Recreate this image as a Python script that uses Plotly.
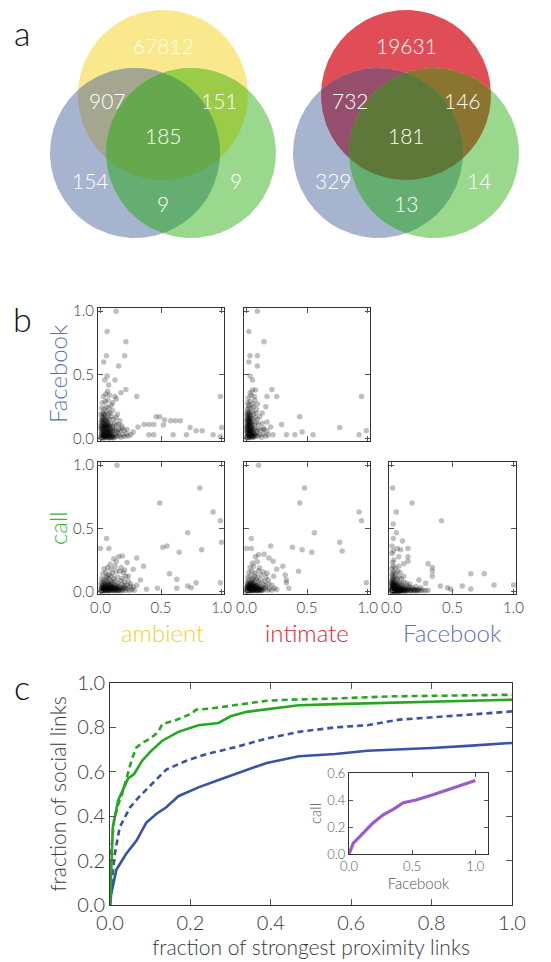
import numpy as np
import plotly.graph_objects as go

W, H = 551, 962
FONT = "Lato, 'Open Sans', sans-serif"

# ---------------- data ----------------
# Venn counts: [A only, A&B, A&C, A&B&C, B only, C only, B&C]  (A = top set, B = Facebook, C = call)
venn_left_counts = [67812, 907, 151, 185, 154, 9, 9]
venn_right_counts = [19631, 732, 146, 181, 329, 14, 13]

# panel b scatter points (x, y)
amb_fb_pts = [
    (0.13, 1.0), (0.055, 0.84), (0.21, 0.76), (0.05, 0.65), (0.2, 0.65), (0.027, 0.60), (0.15, 0.57),
    (0.055, 0.49), (0.036, 0.46), (0.12, 0.46), (0.068, 0.42), (0.21, 0.385), (0.30, 0.33), (0.99, 0.33),
    (0.46, 0.17), (0.49, 0.17), (0.53, 0.145), (0.58, 0.14), (0.62, 0.14), (0.66, 0.14), (0.36, 0.11),
    (0.40, 0.11), (0.44, 0.11), (0.52, 0.105), (0.74, 0.086), (1.0, 0.086), (0.84, 0.06), (0.79, 0.06),
    (0.60, 0.03), (0.71, 0.03), (0.93, 0.03), (0.99, 0.015), (0.40, 0.03), (0.44, 0.03), (0.27, 0.05),
    (0.31, 0.09),
    (0.005, 0.01), (0.015, 0.02), (0.025, 0.005), (0.035, 0.03), (0.045, 0.015), (0.055, 0.04), (0.065, 0.01),
    (0.075, 0.025), (0.085, 0.005), (0.095, 0.035), (0.105, 0.02), (0.115, 0.01), (0.125, 0.03), (0.135, 0.015),
    (0.145, 0.04), (0.155, 0.02), (0.17, 0.01), (0.185, 0.03), (0.2, 0.015), (0.215, 0.035), (0.23, 0.02),
    (0.25, 0.03), (0.01, 0.05), (0.02, 0.065), (0.03, 0.045), (0.04, 0.075), (0.05, 0.055), (0.06, 0.085),
    (0.07, 0.06), (0.08, 0.07), (0.09, 0.05), (0.1, 0.08), (0.11, 0.06), (0.12, 0.075), (0.135, 0.055),
    (0.15, 0.07), (0.165, 0.06), (0.18, 0.08), (0.195, 0.065), (0.22, 0.07), (0.005, 0.1), (0.015, 0.09),
    (0.025, 0.11), (0.035, 0.095), (0.045, 0.12), (0.055, 0.105), (0.065, 0.13), (0.075, 0.1), (0.085, 0.115),
    (0.1, 0.095), (0.115, 0.12), (0.13, 0.105), (0.15, 0.11), (0.175, 0.1), (0.01, 0.14), (0.02, 0.16),
    (0.03, 0.15), (0.04, 0.17), (0.05, 0.145), (0.06, 0.16), (0.075, 0.15), (0.09, 0.175), (0.11, 0.15),
    (0.13, 0.165), (0.16, 0.14), (0.005, 0.19), (0.02, 0.2), (0.035, 0.185), (0.05, 0.21), (0.065, 0.195),
    (0.08, 0.2), (0.1, 0.22), (0.14, 0.19), (0.01, 0.24), (0.03, 0.23), (0.05, 0.25), (0.07, 0.24),
    (0.09, 0.26), (0.015, 0.28), (0.04, 0.29), (0.06, 0.3), (0.1, 0.28), (0.13, 0.31), (0.025, 0.33),
    (0.045, 0.35), (0.075, 0.34), (0.12, 0.33), (0.17, 0.36), (0.06, 0.37),
    (0.012, 0.03), (0.028, 0.06), (0.042, 0.02), (0.058, 0.07), (0.068, 0.045), (0.088, 0.03), (0.022, 0.085),
    (0.048, 0.095), (0.018, 0.125), (0.062, 0.025), (0.032, 0.015), (0.008, 0.07), (0.078, 0.09), (0.098, 0.06),
    (0.004, 0.004), (0.012, 0.012), (0.02, 0.003), (0.028, 0.018), (0.036, 0.006), (0.044, 0.024), (0.052, 0.008),
    (0.06, 0.016), (0.068, 0.003), (0.076, 0.012), (0.084, 0.022), (0.092, 0.008), (0.1, 0.015), (0.108, 0.004),
    (0.008, 0.035), (0.016, 0.045), (0.024, 0.03), (0.032, 0.052), (0.04, 0.038), (0.048, 0.06), (0.056, 0.045),
    (0.064, 0.055), (0.072, 0.035), (0.08, 0.05), (0.004, 0.08), (0.012, 0.1), (0.02, 0.075), (0.028, 0.095),
    (0.036, 0.082), (0.044, 0.105), (0.052, 0.088), (0.06, 0.11), (0.068, 0.09), (0.006, 0.12), (0.014, 0.145),
    (0.026, 0.13), (0.038, 0.14), (0.05, 0.125), (0.012, 0.17), (0.026, 0.19),
]
int_fb_pts = [
    (0.09, 1.0), (0.02, 0.84), (0.145, 0.76), (0.03, 0.65), (0.09, 0.65), (0.02, 0.60), (0.09, 0.57),
    (0.03, 0.49), (0.05, 0.46), (0.21, 0.385), (0.17, 0.33), (0.25, 0.33), (0.95, 0.33), (0.44, 0.17),
    (0.29, 0.11), (0.20, 0.09), (0.77, 0.086), (0.33, 0.03), (0.40, 0.03), (0.46, 0.05), (0.55, 0.03),
    (0.93, 0.03), (0.99, 0.06), (0.22, 0.03), (0.145, 0.07), (0.17, 0.13), (0.13, 0.2), (0.16, 0.25),
    (0.09, 0.27), (0.075, 0.38),
    (0.003, 0.01), (0.01, 0.025), (0.018, 0.005), (0.026, 0.035), (0.034, 0.015), (0.042, 0.045), (0.05, 0.02),
    (0.058, 0.01), (0.066, 0.03), (0.075, 0.015), (0.085, 0.04), (0.095, 0.02), (0.11, 0.03), (0.125, 0.01),
    (0.14, 0.035), (0.16, 0.02), (0.18, 0.03), (0.005, 0.06), (0.012, 0.075), (0.02, 0.055), (0.03, 0.085),
    (0.04, 0.065), (0.05, 0.09), (0.06, 0.07), (0.07, 0.08), (0.085, 0.06), (0.1, 0.075), (0.12, 0.065),
    (0.14, 0.08), (0.17, 0.06), (0.004, 0.1), (0.012, 0.115), (0.02, 0.105), (0.03, 0.125), (0.04, 0.11),
    (0.05, 0.13), (0.065, 0.11), (0.08, 0.125), (0.1, 0.11), (0.13, 0.12), (0.006, 0.145), (0.015, 0.16),
    (0.025, 0.15), (0.035, 0.17), (0.05, 0.155), (0.07, 0.165), (0.09, 0.15), (0.11, 0.17), (0.004, 0.19),
    (0.015, 0.2), (0.03, 0.185), (0.045, 0.21), (0.06, 0.195), (0.08, 0.2), (0.008, 0.23), (0.02, 0.245),
    (0.04, 0.235), (0.06, 0.25), (0.085, 0.23), (0.01, 0.28), (0.03, 0.29), (0.05, 0.27), (0.07, 0.3),
    (0.015, 0.32), (0.04, 0.34), (0.065, 0.33), (0.03, 0.36), (0.05, 0.38),
    (0.008, 0.04), (0.016, 0.09), (0.024, 0.02), (0.032, 0.06), (0.014, 0.135), (0.022, 0.175), (0.01, 0.21),
    (0.038, 0.095), (0.045, 0.03), (0.002, 0.08), (0.028, 0.14), (0.006, 0.165), (0.055, 0.05), (0.018, 0.26),
    (0.002, 0.005), (0.008, 0.018), (0.014, 0.008), (0.02, 0.028), (0.026, 0.012), (0.032, 0.04), (0.038, 0.02),
    (0.044, 0.008), (0.05, 0.035), (0.056, 0.015), (0.004, 0.048), (0.01, 0.062), (0.016, 0.045), (0.022, 0.07),
    (0.028, 0.052), (0.034, 0.08), (0.04, 0.058), (0.046, 0.072), (0.006, 0.09), (0.012, 0.108), (0.018, 0.095),
    (0.024, 0.118), (0.03, 0.1), (0.036, 0.13), (0.003, 0.13), (0.009, 0.15), (0.02, 0.14), (0.03, 0.16),
    (0.012, 0.185), (0.025, 0.2), (0.062, 0.04), (0.07, 0.025),
]
amb_call_pts = [
    (0.137, 1.0), (0.82, 0.82), (0.49, 0.70), (0.93, 0.63), (0.99, 0.56), (0.05, 0.42), (0.72, 0.465),
    (1.0, 0.39), (0.0, 0.34), (0.07, 0.34), (0.515, 0.35), (0.55, 0.36), (0.65, 0.31), (0.835, 0.33),
    (0.11, 0.26), (0.15, 0.275), (0.18, 0.28), (0.13, 0.235), (0.22, 0.23), (0.30, 0.265), (0.356, 0.20),
    (0.27, 0.175), (0.57, 0.14), (0.63, 0.097), (0.72, 0.044), (0.75, 0.03), (0.79, 0.07), (0.99, 0.07),
    (0.38, 0.018), (0.47, 0.026), (0.63, 0.026), (0.33, 0.09), (0.23, 0.12), (0.16, 0.16), (0.055, 0.12),
    (0.005, 0.005), (0.015, 0.015), (0.025, 0.005), (0.035, 0.02), (0.045, 0.01), (0.055, 0.025), (0.065, 0.005),
    (0.075, 0.015), (0.085, 0.03), (0.095, 0.01), (0.105, 0.02), (0.115, 0.005), (0.125, 0.025), (0.135, 0.01),
    (0.15, 0.02), (0.165, 0.005), (0.18, 0.015), (0.195, 0.03), (0.21, 0.01), (0.225, 0.02), (0.24, 0.005),
    (0.26, 0.015), (0.28, 0.01), (0.01, 0.035), (0.02, 0.045), (0.03, 0.04), (0.04, 0.05), (0.05, 0.04),
    (0.06, 0.055), (0.07, 0.045), (0.08, 0.05), (0.09, 0.04), (0.1, 0.055), (0.12, 0.045), (0.14, 0.05),
    (0.16, 0.04), (0.18, 0.055), (0.2, 0.045), (0.22, 0.05), (0.245, 0.04), (0.005, 0.065), (0.02, 0.075),
    (0.035, 0.07), (0.05, 0.08), (0.065, 0.07), (0.08, 0.085), (0.1, 0.075), (0.12, 0.08), (0.145, 0.07),
    (0.17, 0.085), (0.2, 0.075), (0.23, 0.08), (0.01, 0.1), (0.03, 0.095), (0.05, 0.11), (0.07, 0.1),
    (0.09, 0.12), (0.11, 0.1), (0.14, 0.115), (0.18, 0.105), (0.21, 0.12), (0.02, 0.14), (0.045, 0.15),
    (0.07, 0.135), (0.1, 0.145), (0.13, 0.16), (0.19, 0.15), (0.03, 0.18), (0.06, 0.19), (0.09, 0.175),
    (0.12, 0.2), (0.17, 0.19), (0.08, 0.215), (0.2, 0.17), (0.25, 0.06), (0.27, 0.035), (0.3, 0.05),
    (0.012, 0.025), (0.028, 0.012), (0.042, 0.035), (0.058, 0.008), (0.072, 0.028), (0.088, 0.018),
    (0.102, 0.038), (0.118, 0.02), (0.132, 0.035), (0.148, 0.008), (0.175, 0.03), (0.205, 0.025),
    (0.004, 0.002), (0.012, 0.008), (0.02, 0.012), (0.028, 0.003), (0.036, 0.014), (0.044, 0.005), (0.052, 0.018),
    (0.06, 0.008), (0.068, 0.02), (0.076, 0.004), (0.084, 0.012), (0.092, 0.024), (0.1, 0.006), (0.11, 0.016),
    (0.12, 0.008), (0.13, 0.02), (0.14, 0.004), (0.155, 0.012), (0.17, 0.022), (0.185, 0.006), (0.006, 0.028),
    (0.018, 0.032), (0.03, 0.026), (0.042, 0.038), (0.054, 0.03), (0.066, 0.036), (0.078, 0.028), (0.09, 0.034),
    (0.105, 0.03), (0.125, 0.036), (0.145, 0.028), (0.015, 0.055), (0.04, 0.06), (0.065, 0.055), (0.09, 0.062),
]
int_call_pts = [
    (0.10, 1.0), (0.48, 0.82), (0.44, 0.70), (0.93, 0.63), (0.95, 0.56), (0.04, 0.42), (0.56, 0.465),
    (0.0, 0.34), (0.04, 0.34), (0.20, 0.36), (0.38, 0.35), (0.46, 0.33), (0.54, 0.31), (0.77, 0.39),
    (0.79, 0.32), (0.075, 0.275), (0.10, 0.29), (0.145, 0.295), (0.185, 0.265), (0.22, 0.24), (0.09, 0.235),
    (0.30, 0.20), (0.25, 0.175), (0.43, 0.16), (0.32, 0.13), (0.33, 0.09), (0.33, 0.07), (0.35, 0.026),
    (0.99, 0.07), (0.225, 0.12), (0.17, 0.145),
    (0.003, 0.005), (0.01, 0.015), (0.018, 0.005), (0.026, 0.02), (0.034, 0.01), (0.042, 0.025), (0.05, 0.005),
    (0.058, 0.015), (0.066, 0.03), (0.074, 0.01), (0.082, 0.02), (0.09, 0.005), (0.1, 0.025), (0.11, 0.01),
    (0.12, 0.02), (0.13, 0.005), (0.145, 0.015), (0.16, 0.03), (0.175, 0.01), (0.19, 0.02), (0.21, 0.01),
    (0.23, 0.025), (0.25, 0.015), (0.005, 0.04), (0.015, 0.05), (0.025, 0.035), (0.035, 0.055), (0.045, 0.045),
    (0.055, 0.06), (0.065, 0.04), (0.075, 0.05), (0.09, 0.045), (0.105, 0.06), (0.12, 0.04), (0.14, 0.055),
    (0.16, 0.045), (0.185, 0.06), (0.21, 0.05), (0.008, 0.075), (0.02, 0.085), (0.035, 0.07), (0.05, 0.09),
    (0.065, 0.08), (0.08, 0.095), (0.1, 0.075), (0.12, 0.09), (0.15, 0.08), (0.18, 0.09), (0.01, 0.11),
    (0.03, 0.12), (0.05, 0.105), (0.07, 0.125), (0.09, 0.11), (0.12, 0.13), (0.16, 0.115), (0.02, 0.15),
    (0.045, 0.16), (0.07, 0.145), (0.1, 0.165), (0.14, 0.155), (0.03, 0.19), (0.06, 0.2), (0.11, 0.185),
    (0.05, 0.225),
    (0.006, 0.025), (0.014, 0.008), (0.022, 0.03), (0.03, 0.015), (0.038, 0.04), (0.046, 0.012), (0.054, 0.03),
    (0.062, 0.02), (0.07, 0.012), (0.078, 0.035), (0.086, 0.01), (0.095, 0.03), (0.115, 0.02), (0.135, 0.03),
    (0.002, 0.003), (0.008, 0.01), (0.014, 0.02), (0.02, 0.006), (0.026, 0.014), (0.032, 0.026), (0.038, 0.004),
    (0.044, 0.018), (0.05, 0.01), (0.056, 0.022), (0.062, 0.005), (0.068, 0.016), (0.076, 0.024), (0.084, 0.006),
    (0.092, 0.016), (0.1, 0.008), (0.108, 0.018), (0.118, 0.006), (0.128, 0.014), (0.004, 0.032), (0.012, 0.04),
    (0.02, 0.046), (0.03, 0.036), (0.04, 0.048), (0.05, 0.038), (0.06, 0.05), (0.07, 0.04), (0.08, 0.048),
    (0.01, 0.06), (0.025, 0.065), (0.04, 0.07), (0.055, 0.068),
]
fb_call_pts = [
    (0.01, 0.82), (0.17, 0.70), (0.04, 0.63), (0.41, 0.56), (0.015, 0.535), (0.04, 0.465), (0.015, 0.42),
    (0.09, 0.40), (0.005, 0.36), (0.047, 0.34), (0.075, 0.33), (0.135, 0.34), (0.06, 0.275), (0.135, 0.275),
    (0.135, 0.24), (0.06, 0.20), (0.10, 0.22), (0.30, 0.22), (0.335, 0.19), (0.335, 0.16), (0.335, 0.12),
    (0.65, 0.14), (0.76, 0.14), (0.84, 0.052), (1.0, 0.052), (0.58, 0.044), (0.65, 0.02), (0.46, 0.03),
    (0.485, 0.018), (0.40, 0.044), (0.225, 0.09), (0.28, 0.065),
    (0.002, 0.003), (0.008, 0.01), (0.014, 0.004), (0.02, 0.015), (0.026, 0.006), (0.032, 0.02), (0.038, 0.008),
    (0.044, 0.012), (0.05, 0.004), (0.056, 0.018), (0.062, 0.007), (0.068, 0.014), (0.074, 0.004), (0.08, 0.02),
    (0.088, 0.009), (0.096, 0.015), (0.105, 0.005), (0.115, 0.012), (0.125, 0.004), (0.135, 0.016), (0.145, 0.006),
    (0.155, 0.011), (0.165, 0.004), (0.175, 0.014), (0.19, 0.007), (0.2, 0.012), (0.215, 0.004), (0.23, 0.01),
    (0.245, 0.005), (0.26, 0.012), (0.28, 0.006), (0.3, 0.01), (0.004, 0.03), (0.012, 0.04), (0.02, 0.028),
    (0.028, 0.045), (0.036, 0.035), (0.044, 0.05), (0.052, 0.03), (0.06, 0.04), (0.07, 0.032), (0.08, 0.045),
    (0.09, 0.03), (0.1, 0.04), (0.115, 0.03), (0.13, 0.045), (0.15, 0.035), (0.17, 0.03), (0.2, 0.04),
    (0.24, 0.03), (0.003, 0.06), (0.01, 0.07), (0.018, 0.055), (0.026, 0.075), (0.035, 0.065), (0.045, 0.08),
    (0.055, 0.06), (0.065, 0.07), (0.08, 0.06), (0.1, 0.075), (0.12, 0.065), (0.15, 0.06), (0.004, 0.095),
    (0.012, 0.11), (0.02, 0.1), (0.03, 0.12), (0.045, 0.1), (0.06, 0.115), (0.08, 0.1), (0.1, 0.12),
    (0.005, 0.14), (0.015, 0.155), (0.03, 0.145), (0.05, 0.16), (0.07, 0.15), (0.004, 0.18), (0.015, 0.2),
    (0.03, 0.185), (0.01, 0.23), (0.02, 0.25), (0.005, 0.3), (0.015, 0.32),
    (0.006, 0.02), (0.016, 0.035), (0.024, 0.012), (0.034, 0.025), (0.042, 0.004), (0.048, 0.022), (0.058, 0.012),
    (0.066, 0.024), (0.078, 0.01), (0.092, 0.022), (0.11, 0.02), (0.14, 0.022), (0.18, 0.02), (0.22, 0.018),
    (0.008, 0.05), (0.022, 0.065), (0.04, 0.045), (0.002, 0.08), (0.014, 0.085), (0.008, 0.125),
    (0.001, 0.001), (0.005, 0.006), (0.009, 0.002), (0.013, 0.01), (0.017, 0.004), (0.021, 0.008), (0.025, 0.002),
    (0.029, 0.012), (0.033, 0.004), (0.037, 0.009), (0.041, 0.002), (0.045, 0.016), (0.049, 0.006), (0.053, 0.01),
    (0.057, 0.002), (0.061, 0.012), (0.065, 0.004), (0.07, 0.008), (0.076, 0.002), (0.082, 0.012), (0.09, 0.004),
    (0.1, 0.009), (0.11, 0.002), (0.12, 0.008), (0.13, 0.01), (0.16, 0.008), (0.19, 0.003), (0.21, 0.009),
    (0.003, 0.02), (0.009, 0.025), (0.015, 0.022), (0.021, 0.035), (0.03, 0.03), (0.04, 0.038), (0.005, 0.045),
    (0.012, 0.055), (0.002, 0.065),
]

# panel c curves
call_dash_x = [0, 0.003, 0.01, 0.02, 0.03, 0.04, 0.055, 0.066, 0.08, 0.1, 0.12, 0.13, 0.16, 0.2, 0.215, 0.25, 0.31, 0.35, 0.39, 0.45, 0.56, 0.7, 0.85, 1.0]
call_dash_y = [0, 0.25, 0.38, 0.45, 0.5, 0.56, 0.66, 0.71, 0.73, 0.75, 0.78, 0.815, 0.83, 0.86, 0.88, 0.885, 0.90, 0.91, 0.92, 0.925, 0.93, 0.94, 0.942, 0.947]
call_solid_x = [0, 0.003, 0.007, 0.02, 0.035, 0.045, 0.06, 0.08, 0.1, 0.13, 0.17, 0.22, 0.27, 0.28, 0.3, 0.34, 0.41, 0.47, 0.56, 0.72, 0.85, 1.0]
call_solid_y = [0, 0.2, 0.35, 0.47, 0.53, 0.57, 0.59, 0.65, 0.69, 0.74, 0.78, 0.81, 0.82, 0.83, 0.85, 0.87, 0.885, 0.90, 0.905, 0.913, 0.918, 0.925]
fb_dash_x = [0, 0.003, 0.012, 0.024, 0.05, 0.074, 0.107, 0.14, 0.19, 0.24, 0.31, 0.39, 0.47, 0.56, 0.64, 0.72, 0.89, 1.0]
fb_dash_y = [0, 0.08, 0.23, 0.35, 0.44, 0.49, 0.55, 0.61, 0.65, 0.68, 0.71, 0.75, 0.78, 0.80, 0.81, 0.835, 0.857, 0.872]
fb_solid_x = [0, 0.003, 0.016, 0.04, 0.066, 0.09, 0.115, 0.14, 0.17, 0.22, 0.265, 0.31, 0.34, 0.39, 0.47, 0.56, 0.64, 0.72, 0.80, 0.89, 1.0]
fb_solid_y = [0, 0.05, 0.16, 0.23, 0.29, 0.37, 0.41, 0.44, 0.49, 0.53, 0.56, 0.59, 0.61, 0.64, 0.67, 0.68, 0.695, 0.70, 0.707, 0.717, 0.73]
inset_x = [0, 0.008, 0.034, 0.087, 0.14, 0.19, 0.27, 0.35, 0.43, 0.53, 0.67, 0.8, 0.93, 1.0]
inset_y = [0, 0.02, 0.08, 0.13, 0.18, 0.23, 0.29, 0.33, 0.38, 0.40, 0.44, 0.48, 0.52, 0.545]

b_ticks = [0, 0.5, 1.0]
c_ticks = [0, 0.2, 0.4, 0.6, 0.8, 1.0]
inset_xticks = [0, 0.5, 1.0]
inset_yticks = [0, 0.2, 0.4, 0.6]

# ---------------- styles ----------------
BLUE_L, GREEN_L, YELLOW_L, RED_L = "#5B72B3", "#3DB536", "#F3D12E", "#E3252F"
venn_colors_left = {"A": "#F9E88C", "B": "#A7B4D0", "C": "#9AD88E",
                    "AB": "#A4A690", "AC": "#9ACC48", "BC": "#65AE72", "ABC": "#66A84D"}
venn_colors_right = {"A": "#E14D57", "B": "#A7B4D0", "C": "#9AD88E",
                     "AB": "#954F6D", "AC": "#8A742F", "BC": "#65AE72", "ABC": "#5E783A"}

fig = go.Figure()


def dom_x(a, b):
    return [a / W, b / W]


def dom_y(top, bottom):
    return [1 - bottom / H, 1 - top / H]


def region_poly(circles):
    pts = []
    t = np.linspace(0, 2 * np.pi, 1441)
    for i, (cx, cy, r) in enumerate(circles):
        x = cx + r * np.cos(t)
        y = cy + r * np.sin(t)
        m = np.ones_like(x, dtype=bool)
        for j, (ox, oy, orr) in enumerate(circles):
            if i != j:
                m &= (x - ox) ** 2 + (y - oy) ** 2 <= orr ** 2 + 1e-6
        pts.append(np.c_[x[m], y[m]])
    P = np.vstack(pts)
    c = P.mean(axis=0)
    P = P[np.argsort(np.arctan2(P[:, 1] - c[1], P[:, 0] - c[0]))]
    return np.vstack([P, P[:1]])


R = 85
label_offsets = [(0, -50), (-56, 5), (56, 5), (0, 40), (-73, 85), (73, 85), (0, 108)]


def draw_venn(cx, cols, counts):
    A = (cx, 95, R)
    B = (cx - 28, 153, R)
    C = (cx + 28, 153, R)
    order = [("A", [A]), ("B", [B]), ("C", [C]), ("AB", [A, B]), ("AC", [A, C]), ("BC", [B, C]), ("ABC", [A, B, C])]
    for key, cs in order:
        P = region_poly(cs)
        fig.add_trace(go.Scatter(x=P[:, 0], y=P[:, 1], mode="lines", fill="toself",
                                 fillcolor=cols[key], line=dict(width=0, color=cols[key]),
                                 hoverinfo="skip", showlegend=False, xaxis="x", yaxis="y"))
    for (dx, dy), n in zip(label_offsets, counts):
        fig.add_annotation(x=cx + dx, y=95 + dy, xref="x", yref="y", text=str(n), showarrow=False,
                           xanchor="center", yanchor="middle",
                           font=dict(family=FONT, size=21, color="white", weight=300))


draw_venn(163, venn_colors_left, venn_left_counts)
draw_venn(406, venn_colors_right, venn_right_counts)

# scatter panels
panels = [
    (amb_fb_pts, 2, (98, 224), (308, 441), False, True),
    (int_fb_pts, 3, (244, 370), (308, 441), False, False),
    (amb_call_pts, 4, (98, 224), (462, 594), True, True),
    (int_call_pts, 5, (244, 370), (462, 594), True, False),
    (fb_call_pts, 6, (389, 516), (462, 594), True, False),
]
layout_axes = {}
tickfont_b = dict(family=FONT, size=15, color="#3a3a3a", weight=300)
for pts, k, (x0, x1), (y0, y1), showx, showy in panels:
    xs = [p[0] for p in pts]
    ys = [p[1] for p in pts]
    fig.add_trace(go.Scatter(x=xs, y=ys, mode="markers", xaxis=f"x{k}", yaxis=f"y{k}",
                             marker=dict(size=5.5, color="rgba(0,0,0,0.25)", line=dict(width=0)),
                             hoverinfo="skip", showlegend=False))
    common = dict(ticks="inside", ticklen=5, tickwidth=1, tickcolor="#555", showline=True,
                  linecolor="#333", linewidth=1, mirror="ticks", showgrid=False, zeroline=False,
                  tickvals=b_ticks, tickformat=".1f", tickfont=tickfont_b, fixedrange=True,
                  automargin=False)
    layout_axes[f"xaxis{k}"] = dict(domain=dom_x(x0, x1), anchor=f"y{k}", range=[-0.02, 1.02],
                                    showticklabels=showx, **common)
    layout_axes[f"yaxis{k}"] = dict(domain=dom_y(y0, y1), anchor=f"x{k}", range=[-0.02, 1.025],
                                    showticklabels=showy, **common)

# panel c
for xs, ys, col, dash in [(fb_solid_x, fb_solid_y, "#3A53A4", "solid"),
                          (fb_dash_x, fb_dash_y, "#3A53A4", "6px,4px"),
                          (call_solid_x, call_solid_y, "#25A81F", "solid"),
                          (call_dash_x, call_dash_y, "#25A81F", "6px,4px")]:
    fig.add_trace(go.Scatter(x=xs, y=ys, mode="lines", xaxis="x7", yaxis="y7",
                             line=dict(color=col, width=2.6, dash=dash),
                             hoverinfo="skip", showlegend=False))
fig.add_trace(go.Scatter(x=inset_x, y=inset_y, mode="lines", xaxis="x8", yaxis="y8",
                         line=dict(color="#9B5BCB", width=3.2), hoverinfo="skip", showlegend=False))

c_common = dict(ticks="inside", ticklen=6, tickwidth=1, tickcolor="#555", showline=True,
                linecolor="#333", linewidth=1, mirror="ticks", showgrid=False, zeroline=False,
                tickformat=".1f", fixedrange=True, automargin=False)
layout_axes["xaxis7"] = dict(domain=dom_x(110, 512), anchor="y7", range=[0, 1], tickvals=c_ticks,
                             tickfont=dict(family=FONT, size=20, color="#3a3a3a", weight=300),
                             title=dict(text="fraction of strongest proximity links", standoff=0,
                                        font=dict(family=FONT, size=21, color="#3a3a3a", weight=300)),
                             **c_common)
layout_axes["yaxis7"] = dict(domain=dom_y(683, 905), anchor="x7", range=[0, 1], tickvals=c_ticks,
                             tickfont=dict(family=FONT, size=20, color="#3a3a3a", weight=300),
                             title=dict(text="fraction of social links", standoff=4,
                                        font=dict(family=FONT, size=21, color="#3a3a3a", weight=300)),
                             **c_common)
i_common = dict(c_common)
i_common["ticklen"] = 4
layout_axes["xaxis8"] = dict(domain=dom_x(349, 488), anchor="y8", range=[0, 1.1], tickvals=inset_xticks,
                             tickfont=dict(family=FONT, size=13, color="#555", weight=300),
                             title=dict(text="Facebook", standoff=1,
                                        font=dict(family=FONT, size=15, color="#555", weight=300)),
                             **i_common)
layout_axes["yaxis8"] = dict(domain=dom_y(773, 854), anchor="x8", range=[0, 0.6], tickvals=inset_yticks,
                             tickfont=dict(family=FONT, size=13, color="#555", weight=300),
                             title=dict(text="call", standoff=2,
                                        font=dict(family=FONT, size=15, color="#555", weight=300)),
                             **i_common)

# venn axes (pixel coordinates)
layout_axes["xaxis"] = dict(domain=[0, 1], range=[0, W], visible=False, fixedrange=True, automargin=False)
layout_axes["yaxis"] = dict(domain=dom_y(0, 250), range=[250, 0], visible=False, fixedrange=True, automargin=False)

fig.update_layout(template="none", width=W, height=H, margin=dict(l=0, r=0, t=0, b=0, pad=0),
                  paper_bgcolor="white", plot_bgcolor="white", showlegend=False,
                  font=dict(family=FONT), **layout_axes)

# text labels
def add_text(x, y, text, size, color, angle=0):
    fig.add_annotation(x=x / W, y=1 - y / H, xref="paper", yref="paper", text=text, showarrow=False,
                       xanchor="center", yanchor="middle", textangle=angle, borderpad=0,
                       font=dict(family=FONT, size=size, color=color, weight=300))

add_text(22, 33, "a", 34, "#111")
add_text(22, 318, "b", 34, "#111")
add_text(22, 686, "c", 34, "#111")
add_text(57, 374, "Facebook", 24, BLUE_L, -90)
add_text(57, 528, "call", 24, GREEN_L, -90)
add_text(162, 632, "ambient", 24, YELLOW_L)
add_text(307, 632, "intimate", 24, RED_L)
add_text(452, 632, "Facebook", 24, BLUE_L)

fig.write_html("out.html", config={"displayModeBar": False},
               post_script="document.body.style.margin='0';document.body.style.padding='0';")
